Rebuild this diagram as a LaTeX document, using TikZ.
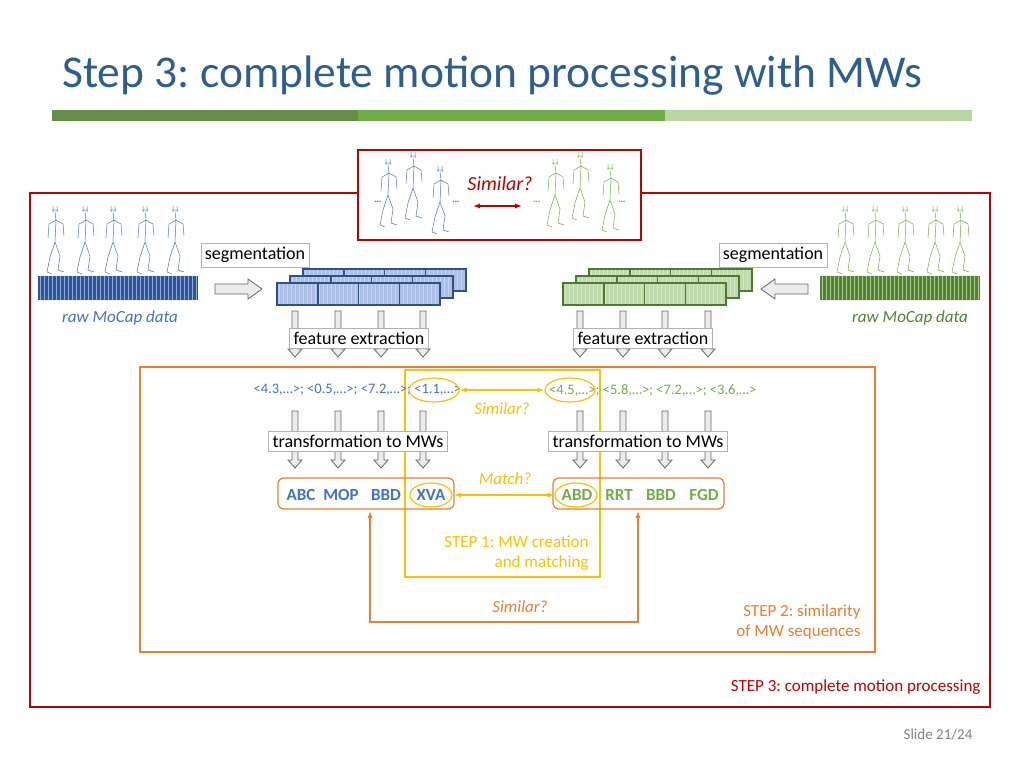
\documentclass[tikz,border=0pt]{standalone}
\usepackage{fontspec}
\setmainfont{Carlito}
\usetikzlibrary{arrows.meta,shapes.geometric}
\definecolor{cblue}{HTML}{4472C4}
\definecolor{dblue}{HTML}{2F5597}
\definecolor{cgreen}{HTML}{70AD47}
\definecolor{dgreen}{HTML}{548235}
\definecolor{corange}{HTML}{ED7D31}
\definecolor{cyellow}{HTML}{FFC000}
\definecolor{cred}{HTML}{C00000}
\definecolor{ctitle}{HTML}{2E5E8E}
\newcommand\darr[3]{\draw[gray!80!black,fill=gray!15,line width=0.8] (#1-3,#2) -- (#1+3,#2) -- (#1+3,#3-8) -- (#1+7,#3-8) -- (#1,#3) -- (#1-7,#3-8) -- (#1-3,#3-8) -- cycle;}
\newcommand\stickfig[3]{\begin{scope}[shift={(#1,#2)},draw=#3,line width=0.5]
\draw (0,0) -- (1,8) -- (0,30) (1,8) -- (-6,12) -- (-7,26) (1,8) -- (8,12) -- (9,24) (0,30) -- (-5,45) -- (-8,60) -- (-3,62) (0,30) -- (5,44) -- (3,58) -- (9,60) (-3,-2) -- (3,-2) (-2,-6) -- (-2,0) (2,-6) -- (2,0);
\end{scope}}
\newcommand\stripebar[6]{%
\fill[#5] (#1,#2) rectangle (#3,#4);
\foreach \xx in {#1,...,#3}{\pgfmathparse{mod(\xx-#1,4)==2?1:0}\ifnum\pgfmathresult=1 \draw[#6,line width=1] (\xx,#2) -- (\xx,#4);\fi}}
\newcommand\segstack[3]{%
\foreach \k in {2,1,0}{
 \pgfmathsetmacro\ox{#1+13*\k}\pgfmathsetmacro\oy{#2-7*\k}
 \begin{scope}[shift={(\ox,\oy)}]
 \fill[#3!45] (0,0) rectangle (163,22);
 \foreach \s in {2,6,...,160}{\draw[white!70!#3,line width=1] (\s,0) -- (\s,22);}
 \foreach \b in {0,1,2,3}{\draw[#3!70!black,line width=1.5] (\b*40.75,0) rectangle (\b*40.75+40.75,22);}
 \end{scope}}}
\tikzset{lbl/.style={draw=gray!60,fill=white,font=\fontsize{18}{20}\selectfont,inner sep=4pt},
 mw/.style={font=\bfseries\fontsize{17}{19}\selectfont},
 feat/.style={font=\fontsize{14.5}{16}\selectfont},
 it/.style={font=\itshape\fontsize{17}{19}\selectfont},
 ell/.style={draw=cyellow,line width=1.2,ellipse},
 yarr/.style={cyellow,line width=1.6,{Latex[length=7pt]}-{Latex[length=7pt]}}}
\begin{document}
\frenchspacing
\begin{tikzpicture}[x=1pt,y=-1pt]
\useasboundingbox (0,0) rectangle (1024,768);
\node[anchor=base west,text=ctitle,font=\fontsize{45.5}{50}\selectfont,inner sep=0] (title) at (62,87) {Step 3: complete motion processing with MWs};
\fill[dgreen!90] (52,110) rectangle (358,121);
\fill[cgreen] (358,110) rectangle (665,121);
\fill[cgreen!50] (665,110) rectangle (972,121);
\draw[cred,line width=1.5] (30,193) rectangle (990,707);
\draw[corange,line width=1.5] (140,367) rectangle (875,652);
\draw[cyellow,line width=2] (405,370) rectangle (600,577);
\draw[cred,line width=1.5,fill=white] (358,150) rectangle (641,240);
\foreach \x/\y in {388/165,413/158,440/172}{\stickfig{\x}{\y}{cblue!80!gray}}
\foreach \x/\y in {555/165,580/158,610/170}{\stickfig{\x}{\y}{cgreen}}
\node[text=cred,font=\itshape\fontsize{20}{22}\selectfont] (simtop) at (500,184) {Similar?};
\node[text=cblue,font=\bfseries] (d1) at (378,202) {…};
\node[text=cblue,font=\bfseries] (d2) at (456,202) {…};
\node[text=cgreen,font=\bfseries] (d3) at (537,202) {…};
\node[text=cgreen,font=\bfseries] (d4) at (622,202) {…};
\coordinate (ta) at (473,206); \coordinate (tb) at (522,206);
\draw[cred,line width=1.6,{Latex[length=7pt]}-{Latex[length=7pt]}] (ta) -- (tb);
\foreach \x in {55,85,113,145,175}{\stickfig{\x}{212}{cblue!80!gray}}
\foreach \x in {845,875,905,935,960}{\stickfig{\x}{212}{cgreen}}
\stripebar{38}{276}{198}{300}{dblue}{cblue!60}
\stripebar{820}{276}{980}{300}{dgreen}{cgreen!60}
\node[text=cblue,it] (raw1) at (120,318) {raw MoCap data};
\node[text=dgreen,it] (raw2) at (910,318) {raw MoCap data};
\node[lbl] (seg1) at (255,255) {segmentation};
\node[lbl] (seg2) at (773,255) {segmentation};
\draw[gray!80!black,fill=gray!15,line width=0.8] (215,284) -- (248,284) -- (248,279) -- (262,289) -- (248,299) -- (248,294) -- (215,294) -- cycle;
\draw[gray!80!black,fill=gray!15,line width=0.8] (808,284) -- (775,284) -- (775,279) -- (761,289) -- (775,299) -- (775,294) -- (808,294) -- cycle;
\segstack{277}{283}{cblue}
\segstack{563}{283}{cgreen}
\foreach \x in {295,338,381,423,580,623,665,708}{\darr{\x}{311}{357}}
\node[lbl] (fe1) at (359,338) {feature extraction};
\node[lbl] (fe2) at (643,338) {feature extraction};
\node[feat,text=cblue,anchor=east,inner sep=0] (f1) at (461,390) {<4.3,…>; <0.5,…>; <7.2,…>; <1.1,…>};
\node[feat,text=cgreen,anchor=west,inner sep=0] (f2) at (549,390) {<4.5,…>; <5.8,…>; <7.2,…>; <3.6,…>};
\node[ell,minimum width=50pt,minimum height=24pt] (e1) at (434,390) {};
\node[ell,minimum width=50pt,minimum height=24pt] (e2) at (570,390) {};
\draw[yarr] (e1) -- (e2);
\node[text=cyellow,it] (sim1) at (502,409) {Similar?};
\foreach \x in {295,338,381,423,580,623,665,708}{\darr{\x}{411}{468}}
\node[lbl] (tr1) at (358,441) {transformation to MWs};
\node[lbl] (tr2) at (638,441) {transformation to MWs};
\draw[corange,line width=1.2,rounded corners=6] (278,478) rectangle (454,509);
\draw[corange,line width=1.2,rounded corners=6] (553,478) rectangle (724,509);
\node[mw,text=cblue] (w1) at (301,495) {ABC};
\node[mw,text=cblue] (w2) at (341,495) {MOP};
\node[mw,text=cblue] (w3) at (386,495) {BBD};
\node[mw,text=cblue] (w4) at (431,495) {XVA};
\node[mw,text=cgreen] (v1) at (577,495) {ABD};
\node[mw,text=cgreen] (v2) at (619,495) {RRT};
\node[mw,text=cgreen] (v3) at (661,495) {BBD};
\node[mw,text=cgreen] (v4) at (704,495) {FGD};
\node[ell,minimum width=42pt,minimum height=24pt] (x1) at (431,495) {};
\node[ell,minimum width=42pt,minimum height=24pt] (x2) at (576,495) {};
\draw[yarr] (454,495) -- (x2);
\node[text=cyellow,it] (match) at (505,479) {Match?};
\node[text=cyellow,align=right,anchor=east,font=\fontsize{17}{20.5}\selectfont] (s1) at (592,553) {STEP 1: MW creation\\and matching};
\coordinate (oa) at (370,511); \coordinate (ob) at (638,511);
\coordinate (oc) at (370,622); \coordinate (od) at (638,622);
\draw[corange,line width=1.4,{Latex[length=7pt]}-{Latex[length=7pt]}] (oa) -- (oc) -- (od) -- (ob);
\node[text=corange,it] (sim2) at (520,607) {Similar?};
\node[text=corange,align=right,anchor=east,font=\fontsize{17}{20.5}\selectfont] (s2) at (864,622) {STEP 2: similarity\\of MW sequences};
\node[text=cred,anchor=east,font=\fontsize{17}{19}\selectfont] (s3) at (984,687) {STEP 3: complete motion processing};
\node[text=gray,font=\fontsize{15}{17}\selectfont] (slide) at (938,735) {Slide 21/24};
\end{tikzpicture}
\end{document}
